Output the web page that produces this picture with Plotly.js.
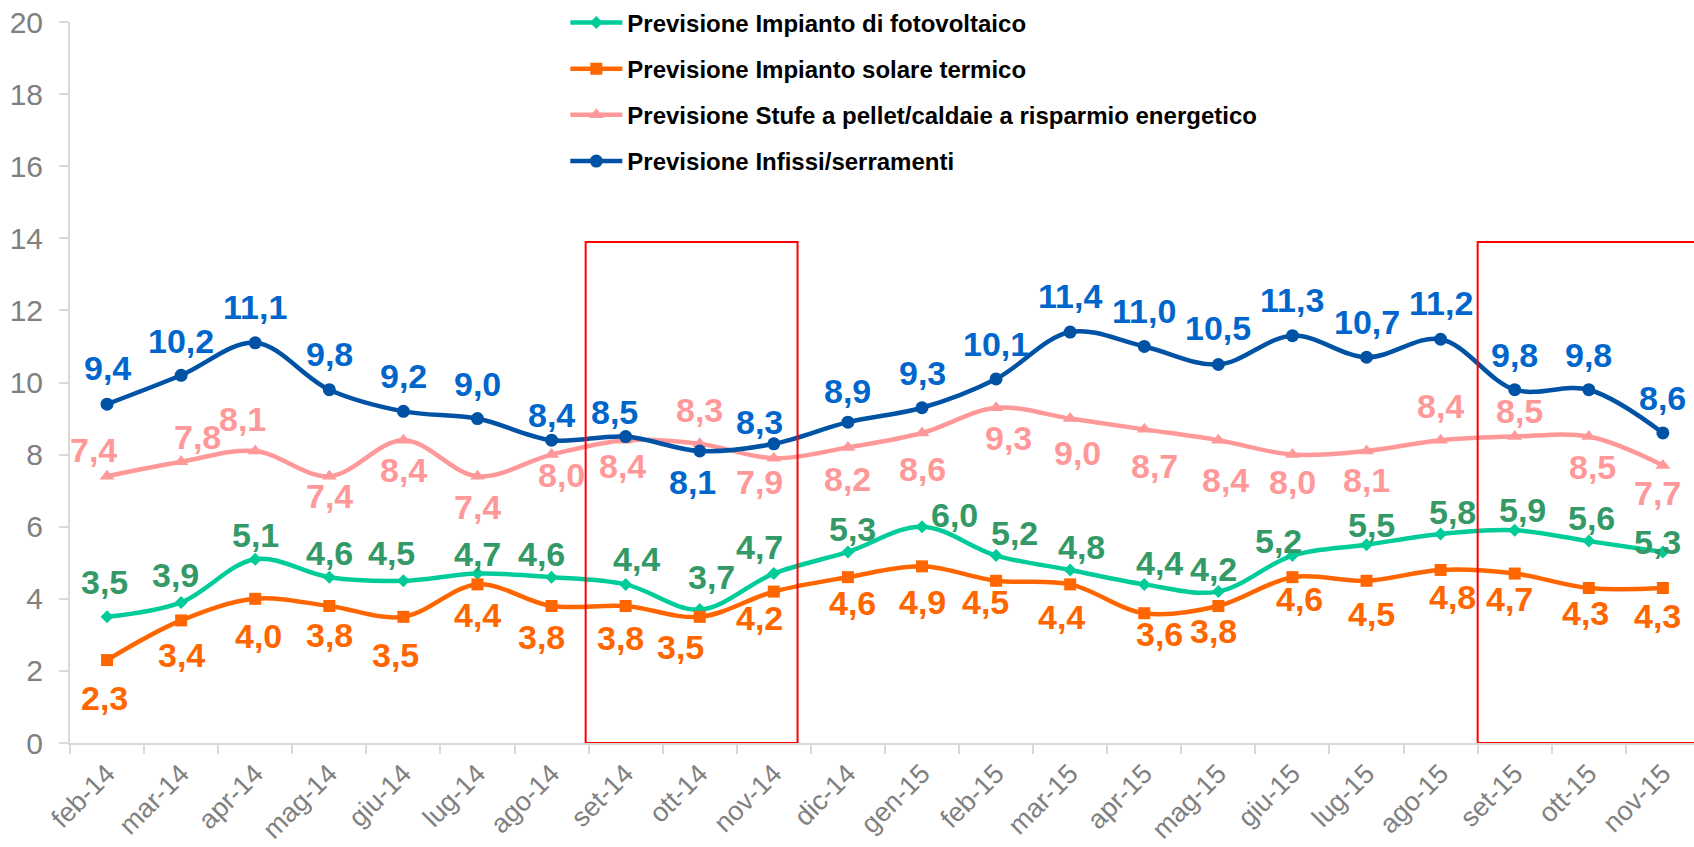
<!DOCTYPE html>
<html>
<head>
<meta charset="utf-8">
<script src="https://cdn.plot.ly/plotly-3.0.1.min.js"></script>
<style>
  body { margin: 0; background: #fff; }
  #chart { width: 1694px; height: 847px; }
</style>
</head>
<body>
<div id="chart"></div>
<script>
let mesi = ["feb-14", "mar-14", "apr-14", "mag-14", "giu-14", "lug-14", "ago-14", "set-14", "ott-14", "nov-14", "dic-14",
            "gen-15", "feb-15", "mar-15", "apr-15", "mag-15", "giu-15", "lug-15", "ago-15", "set-15", "ott-15", "nov-15"];

let fotovoltaico = [3.5, 3.9, 5.1, 4.6, 4.5, 4.7, 4.6, 4.4, 3.7, 4.7, 5.3, 6.0, 5.2, 4.8, 4.4, 4.2, 5.2, 5.5, 5.8, 5.9, 5.6, 5.3];
let solareTermico = [2.3, 3.4, 4.0, 3.8, 3.5, 4.4, 3.8, 3.8, 3.5, 4.2, 4.6, 4.9, 4.5, 4.4, 3.6, 3.8, 4.6, 4.5, 4.8, 4.7, 4.3, 4.3];
let stufe = [7.4, 7.8, 8.1, 7.4, 8.4, 7.4, 8.0, 8.4, 8.3, 7.9, 8.2, 8.6, 9.3, 9.0, 8.7, 8.4, 8.0, 8.1, 8.4, 8.5, 8.5, 7.7];
let infissi = [9.4, 10.2, 11.1, 9.8, 9.2, 9.0, 8.4, 8.5, 8.1, 8.3, 8.9, 9.3, 10.1, 11.4, 11.0, 10.5, 11.3, 10.7, 11.2, 9.8, 9.8, 8.6];

let nomi = ["Previsione Impianto di fotovoltaico", "Previsione Impianto solare termico",
            "Previsione Stufe a pellet/caldaie a risparmio energetico", "Previsione Infissi/serramenti"];

// spostamento delle etichette dati in pixel (dy > 0 sopra il punto, dy < 0 sotto)
let dyFoto  = [35, 27, 24, 24, 28, 20, 23, 25, 33, 27, 23, 12, 23, 23, 21, 23, 15, 20, 22, 20, 23, 10];
let dxFoto  = [-3, -6, 0, 0, -12, 0, -10, 11, 12, -14, 5, 32, 18, 11, 15, -5, -14, 5, 12, 8, 3, -5];
let dySolare = [-38, -35, -37, -29, -38, -31, -31, -32, -30, -26, -26, -36, -21, -33, -21, -25, -22, -33, -27, -25, -25, -28];
let dxSolare = [-3, 0, 3, 0, -8, 0, -10, -5, -19, -14, 5, 0, -11, -9, 15, -5, 7, 5, 12, -5, -3, -5];
let dyStufe = [26, 25, 32, -20, -30, -31, -20, -26, 34, -24, -32, -36, -30, -34, -37, -40, -27, -29, 34, 26, -30, -28];
let dxStufe = [-14, 16, -13, 0, 0, 0, 10, -3, 0, -14, 0, 0, 12, 7, 10, 7, 0, 0, 0, 5, 4, -5];
let dyInfissi = [36, 34, 36, 36, 35, 35, 25, 25, -31, 22, 31, 35, 35, 36, 35, 36, 36, 35, 36, 35, 35, 35];
let dxInfissi = [0, 0, 0, 0, 0, 0, 0, -11, -7, -14, 0, 0, 0, 0, 0, 0, 0, 0, 0, 0, 0, 0];

// riquadri rossi (periodi evidenziati), in indici di categoria
let riquadri = [[6.46, 9.32], [18.5, 21.8]];
let altezzaRiquadro = 13.9;

let fontBase = "Liberation Sans, Arial, sans-serif";

function etichetta(v) {
    return v.toFixed(1).replace(".", ",");
}

function serie(nome, valori, colore, simbolo, dim) {
    return {
        x: mesi,
        y: valori,
        name: nome,
        legendgroup: nome,
        type: "scatter",
        mode: "lines+markers",
        line: { color: colore, width: 4.5, shape: "spline", smoothing: 1 },
        marker: { color: colore, symbol: simbolo, size: dim },
        cliponaxis: false,
        hoverinfo: "skip"
    };
}

function etichette(valori, dy, dx, colore) {
    return valori.map((v, i) => ({
        x: mesi[i], y: v, xref: "x", yref: "y",
        text: etichetta(v),
        showarrow: false,
        xanchor: "center", yanchor: "middle",
        xshift: dx[i], yshift: dy[i],
        font: { family: fontBase, size: 34, color: colore, weight: "bold" }
    }));
}

let tracce = [
    serie(nomi[0], fotovoltaico, "#00CC99", "diamond", 10),
    serie(nomi[1], solareTermico, "#FF6600", "square", 12),
    serie(nomi[2], stufe, "#FF9999", "triangle-up", 13),
    serie(nomi[3], infissi, "#0052A5", "circle", 13)
];

let annotazioni = [].concat(
    etichette(fotovoltaico, dyFoto, dxFoto, "#339966"),
    etichette(solareTermico, dySolare, dxSolare, "#FF6600"),
    etichette(stufe, dyStufe, dxStufe, "#FF9999"),
    etichette(infissi, dyInfissi, dxInfissi, "#0066CC")
);

let forme = riquadri.map(r => ({
    type: "rect", xref: "x", yref: "y",
    x0: r[0], x1: r[1], y0: 0, y1: altezzaRiquadro,
    line: { color: "#FF0000", width: 2 },
    fillcolor: "rgba(0,0,0,0)"
}));

let layout = {
    width: 1694,
    height: 847,
    margin: { l: 70, r: 0, t: 22, b: 104 },
    paper_bgcolor: "#FFFFFF",
    plot_bgcolor: "#FFFFFF",
    font: { family: fontBase, color: "#808080" },
    showlegend: true,
    legend: {
        x: 0.305, y: 1.03, xanchor: "left", yanchor: "top",
        bgcolor: "rgba(0,0,0,0)",
        font: { size: 24, color: "#000000", weight: "bold" },
        itemwidth: 52,
        tracegroupgap: 12
    },
    xaxis: {
        type: "category",
        range: [-0.5, 21.42],
        showgrid: false,
        showline: true,
        linecolor: "#D9D9D9",
        linewidth: 2,
        ticks: "outside",
        tickson: "boundaries",
        ticklen: 9,
        tickcolor: "#D9D9D9",
        tickwidth: 2,
        tickangle: -45,
        ticklabelstandoff: 2,
        tickfont: { size: 27, color: "#808080" },
        automargin: false,
        zeroline: false
    },
    yaxis: {
        range: [0, 20],
        dtick: 2,
        showgrid: false,
        showline: true,
        linecolor: "#D9D9D9",
        linewidth: 2,
        ticks: "outside",
        ticklen: 9,
        tickcolor: "#D9D9D9",
        tickwidth: 2,
        ticklabelstandoff: 10,
        tickfont: { size: 30, color: "#808080" },
        automargin: false,
        zeroline: false
    },
    annotations: annotazioni,
    shapes: forme
};

Plotly.newPlot("chart", tracce, layout, { staticPlot: true });
</script>
</body>
</html>
